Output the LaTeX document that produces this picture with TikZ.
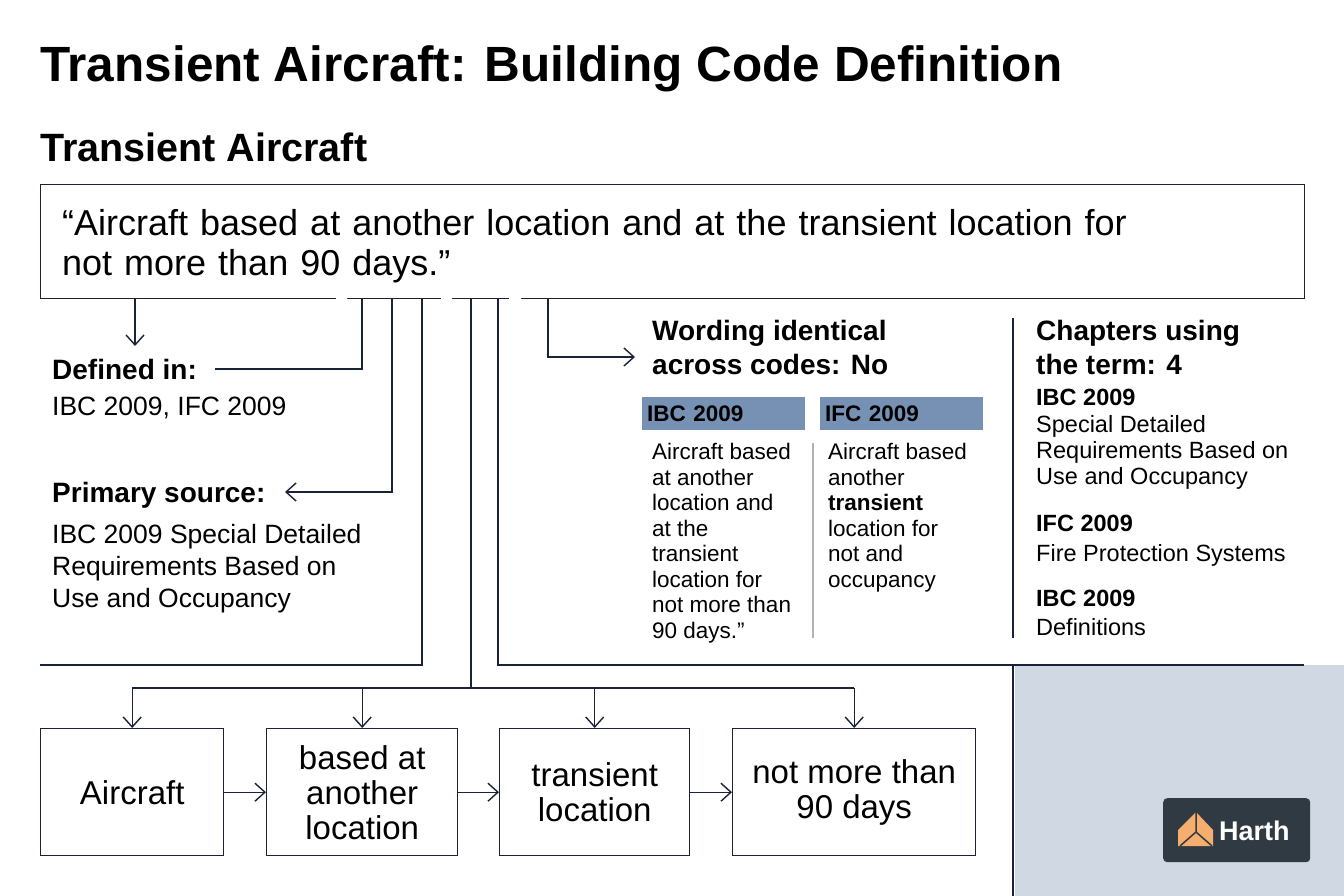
\documentclass[tikz,border=0pt]{standalone}
\usepackage{fontspec}
\setmainfont{Liberation Sans}
\usetikzlibrary{positioning}
\usetikzlibrary{arrows.meta}
\definecolor{ink}{HTML}{1A2238}
\definecolor{tabblue}{HTML}{7691B3}
\definecolor{panel}{HTML}{CFD8E3}
\definecolor{logobg}{HTML}{2F3A42}
\definecolor{logoor}{HTML}{F5AE6E}
\tikzset{
  link/.style={draw=ink, line width=1.4pt},
  arr/.style={link, -{Straight Barb[length=10pt,width=18pt]}},
  step/.style={draw=ink, line width=1.4pt, minimum width=#1, minimum height=127pt, align=center, font=\fontsize{33}{38}\selectfont, inner sep=0pt},
  head/.style={anchor=base west, inner sep=0pt, font=\bfseries\fontsize{28}{34}\selectfont},
  body/.style={anchor=base west, inner sep=0pt, font=\fontsize{26.5}{32}\selectfont},
  chap/.style={anchor=base west, inner sep=0pt, font=\fontsize{23.5}{26}\selectfont},
  small/.style={anchor=north west, inner sep=0pt, font=\fontsize{22.5}{25.5}\selectfont, align=left},
  tab/.style={fill=tabblue, anchor=north west, minimum width=163pt, minimum height=33pt, inner sep=0pt, text width=153pt, font=\bfseries\fontsize{22.5}{26}\selectfont}
}
\begin{document}
\begin{tikzpicture}[x=1pt, y=-1pt]
    \useasboundingbox (0,0) rectangle (1344,896);
    % panel in the corner
    \fill[panel] (1015,665) rectangle (1344,896);
    \draw[link] (1013,665) -- (1013,896);

    % titles
    \node[anchor=base west, inner sep=0pt, font=\bfseries\fontsize{49.5}{54}\selectfont] (title) at (40,82) {Transient Aircraft: Building Code Definition};
    \node[anchor=base west, inner sep=0pt, font=\bfseries\fontsize{39.5}{44}\selectfont] (sub) at (40,162) {Transient Aircraft};

    % quote box
    \node[anchor=north west, draw=ink, line width=1.4pt, minimum width=1264pt, minimum height=114pt, inner sep=0pt] (quote) at (40,184) {};
    \node[anchor=north west, inner sep=0pt, text width=1200pt, align=left, font=\fontsize{36}{40}\selectfont] (qtext) at (62,209) {“Aircraft based at another location and at the transient location for\\ not more than 90 days.”};
    \fill[white] (336,292) rectangle (347,304) (441,292) rectangle (452,304) (509,292) rectangle (521,304);

    % left column
    \node[head] (defd) at (52,379) {Defined in:};
    \node[body] (defb) at (52,415) {IBC 2009, IFC 2009};
    \node[head] (prim) at (52,502) {Primary source:};
    \node[body] (prim1) at (52,543) {IBC 2009 Special Detailed};
    \node[body] (prim2) at (52,575) {Requirements Based on};
    \node[body] (prim3) at (52,607) {Use and Occupancy};
    \coordinate (c1) at (135,298);
    \coordinate (c1e) at (135,346);
    \draw[arr] (c1) -- (c1e);
    \coordinate (d0) at (362,298);
    \coordinate (d1) at (215,369);
    \draw[link] (d0) |- (d1);
    \coordinate (p0) at (392,298);
    \coordinate (p1) at (285,492);
    \draw[arr] (p0) |- (p1);
    \coordinate (l0) at (422,298);
    \coordinate (l1) at (40,665);
    \draw[link] (l0) |- (l1);
    \coordinate (r0) at (498,298);
    \coordinate (r1) at (1304,665);
    \draw[link] (r0) |- (r1);

    % wording column
    \coordinate (w0) at (548,298);
    \coordinate (w1) at (635,357);
    \draw[arr] (w0) |- (w1);
    \node[head] (word1) at (652,340) {Wording identical};
    \node[head] (word2) at (652,374) {across codes: No};
    \node[tab] (tibc) at (642,397) {IBC 2009};
    \node[tab] (tifc) at (820,397) {IFC 2009};
    \node[small] (ibct) at (652,443) {Aircraft based\\at another\\location and\\at the\\transient\\location for\\not more than\\90 days.”};
    \node[small] (ifct) at (828,443) {Aircraft based\\another\\\textbf{transient}\\location for\\not and\\occupancy};
    \draw[gray!60, line width=1.2pt] (813,443) -- (813,638);

    % chapters column
    \draw[link] (1013,318) -- (1013,638);
    \node[head] (chap1) at (1036,340) {Chapters using};
    \node[head] (chap2) at (1036,374) {the term: 4};
    \node[chap] (ch1) at (1036,405) {\textbf{IBC 2009}};
    \node[chap] (ch1a) at (1036,432) {Special Detailed};
    \node[chap] (ch1b) at (1036,458) {Requirements Based on};
    \node[chap] (ch1c) at (1036,484) {Use and Occupancy};
    \node[chap] (ch2) at (1036,531) {\textbf{IFC 2009}};
    \node[chap] (ch2a) at (1036,561) {Fire Protection Systems};
    \node[chap] (ch3) at (1036,606) {\textbf{IBC 2009}};
    \node[chap] (ch3a) at (1036,635) {Definitions};

    % term breakdown
    \node[step=183pt, anchor=north west] (s1) at (40,728) {Aircraft};
    \node[step=191pt, anchor=north west] (s2) at (266,728) {based at\\[-3pt]another\\[-3pt]location};
    \node[step=190pt, anchor=north west] (s3) at (499,728) {transient\\[-3pt]location};
    \node[step=243pt, anchor=north west] (s4) at (732,728) {not more than\\[-3pt]90 days};
    \draw[arr] (s1) -- (s2);
    \draw[arr] (s2) -- (s3);
    \draw[arr] (s3) -- (s4);
    \coordinate (t0) at (471,298);
    \coordinate (t1) at (471,688);
    \draw[link] (t0) -- (t1);
    \draw[link] (s1.north |- t1) -- (s4.north |- t1);
    \foreach \s in {s1,s2,s3,s4}
        \draw[arr] (\s.north |- t1) -- (\s.north);

    % logo
    \node[fill=logobg, rounded corners=4pt, anchor=north west, minimum width=147pt, minimum height=64pt] (logo) at (1163,798) {};
    \fill[logoor] (1178,830) -- (1196,812) -- (1213,830) -- (1213,846) -- (1178,846) -- cycle;
    \draw[logobg, line width=1.5pt] (1196,812) -- (1196,832) -- (1180,846) (1196,832) -- (1212,846);
    \node[anchor=west, inner sep=0pt, text=white, font=\bfseries\fontsize{27}{30}\selectfont] (harth) at (1219,831) {Harth};
\end{tikzpicture}
\end{document}
